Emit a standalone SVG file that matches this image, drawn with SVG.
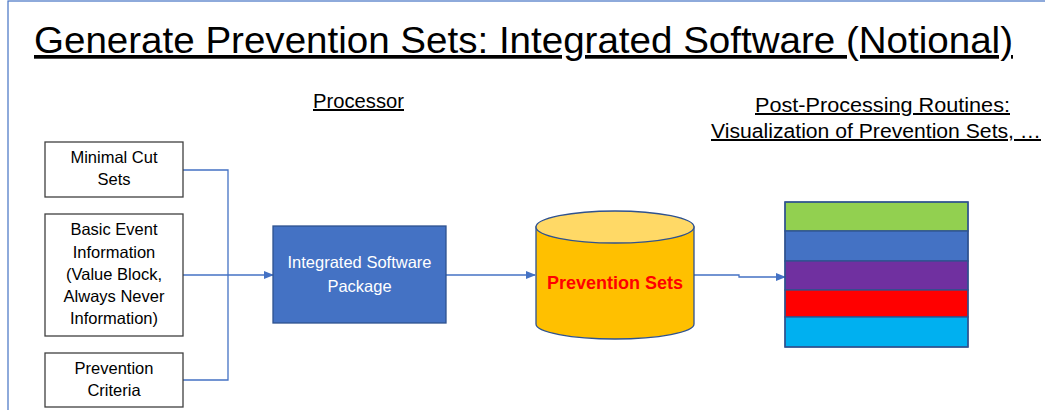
<svg xmlns="http://www.w3.org/2000/svg" width="1045" height="410" viewBox="0 0 1045 410">
<defs>
<style>
.t{font-family:"Liberation Sans",Arial,sans-serif;fill:#000}
.box{fill:#fff;stroke:#404040;stroke-width:1.3}
.bt{font-family:"Liberation Sans",Arial,sans-serif;font-size:16.5px;text-anchor:middle;fill:#000}
.con{fill:none;stroke:#4472C4;stroke-width:1.3}
.band{stroke:#2F528F;stroke-width:1.3}
</style>
<marker id="ah" markerWidth="10" markerHeight="8" refX="9" refY="4" orient="auto" markerUnits="userSpaceOnUse">
<path d="M0,0 L10,4 L0,8 Z" fill="#4472C4"/>
</marker>
</defs>
<rect x="0" y="0" width="1045" height="410" fill="#fff"/>
<rect x="8" y="1" width="1100" height="500" fill="none" stroke="#4472C4" stroke-width="1.2"/>

<g id="title">
<text class="t" x="34" y="53" font-size="37" textLength="979" lengthAdjust="spacingAndGlyphs" text-decoration="underline">Generate Prevention Sets: Integrated Software (Notional)</text>
</g>
<g id="label-processor">
<text class="t" x="313" y="108" font-size="20" textLength="91" lengthAdjust="spacingAndGlyphs" text-decoration="underline">Processor</text>
</g>
<g id="label-post">
<text class="t" x="755" y="112" font-size="20" textLength="255" lengthAdjust="spacingAndGlyphs" text-decoration="underline">Post-Processing Routines:</text>
<text class="t" x="711" y="138" font-size="20" textLength="330" lengthAdjust="spacingAndGlyphs" text-decoration="underline">Visualization of Prevention Sets, …</text>
</g>

<g id="connectors">
<polyline class="con" points="183,170 228,170 228,380 183,380"/>
<line class="con" x1="183" y1="275" x2="273" y2="275" marker-end="url(#ah)"/>
<line class="con" x1="446" y1="275" x2="535" y2="275" marker-end="url(#ah)"/>
<polyline class="con" points="694,275 739,275 739,277 785,277" marker-end="url(#ah)"/>
</g>

<g id="node-minimal-cut-sets">
<rect class="box" x="45" y="142" width="138" height="55"/>
<text class="bt" x="114" y="163">Minimal Cut</text>
<text class="bt" x="114" y="185">Sets</text>
</g>
<g id="node-basic-event">
<rect class="box" x="45" y="214" width="138" height="122"/>
<text class="bt" x="114" y="235">Basic Event</text>
<text class="bt" x="114" y="258">Information</text>
<text class="bt" x="114" y="280">(Value Block,</text>
<text class="bt" x="114" y="302">Always Never</text>
<text class="bt" x="114" y="324">Information)</text>
</g>
<g id="node-prevention-criteria">
<rect class="box" x="45" y="353" width="138" height="54"/>
<text class="bt" x="114" y="374">Prevention</text>
<text class="bt" x="114" y="396">Criteria</text>
</g>

<g id="node-integrated-software">
<rect x="273" y="226" width="173" height="97" fill="#4472C4" stroke="#2F528F" stroke-width="1.3"/>
<text class="bt" x="359.5" y="268" style="fill:#fff">Integrated Software</text>
<text class="bt" x="359.5" y="292" style="fill:#fff">Package</text>
</g>

<g id="node-prevention-sets">
<path d="M536,227 L536,324 A79,15 0 0 0 694,324 L694,227 Z" fill="#FFC000" stroke="#2F528F" stroke-width="1.3"/>
<ellipse cx="615" cy="227" rx="79" ry="16" fill="#FFD966" stroke="#2F528F" stroke-width="1.3"/>
<text x="615" y="289" font-family="'Liberation Sans',Arial,sans-serif" font-size="18" font-weight="bold" fill="#FF0000" text-anchor="middle">Prevention Sets</text>
</g>

<g id="node-visualization">
<rect class="band" x="785" y="202" width="183" height="29" fill="#92D050"/>
<rect class="band" x="785" y="231" width="183" height="30" fill="#4472C4"/>
<rect class="band" x="785" y="261" width="183" height="29" fill="#7030A0"/>
<rect class="band" x="785" y="290" width="183" height="27" fill="#FF0000" stroke="none"/>
<rect class="band" x="785" y="317" width="183" height="30" fill="#00B0F0"/>
<rect x="785" y="202" width="183" height="145" fill="none" stroke="#2F528F" stroke-width="1.3"/>
</g>
</svg>
